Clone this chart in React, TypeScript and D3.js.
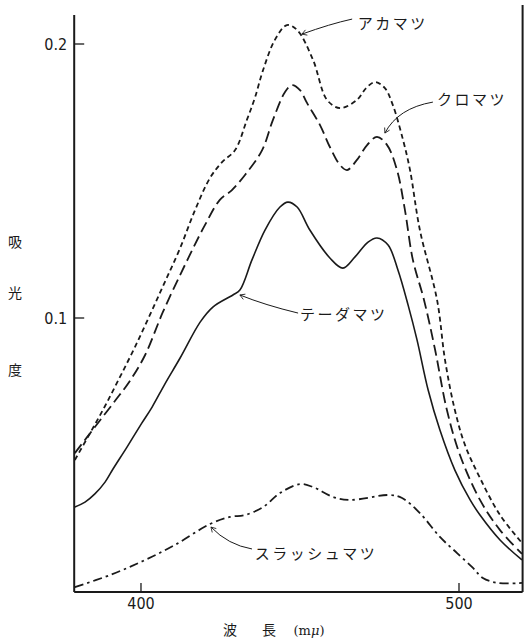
import React from 'react';
import * as d3 from 'd3';

// ---- data (wavelength nm, absorbance) ----
const akaNm = [379.2, 384.0, 388.7, 393.4, 398.1, 402.8, 407.5, 412.3, 417.0, 421.7, 425.5, 429.6, 433.3, 435.8, 438.4, 442.1, 445.9, 449.1, 454.1, 458.5, 462.6, 467.9, 470.8, 473.6, 476.7, 479.2, 482.4, 484.6, 487.7, 493.1, 495.6, 498.7, 501.9, 506.6, 512.9, 519.8];
const akaA = [0.0482, 0.0580, 0.0679, 0.0785, 0.0894, 0.1011, 0.1131, 0.1255, 0.1394, 0.1511, 0.1569, 0.1613, 0.1723, 0.1803, 0.1905, 0.2015, 0.2069, 0.2051, 0.1942, 0.1796, 0.1766, 0.1796, 0.1839, 0.1861, 0.1839, 0.1777, 0.1650, 0.1540, 0.1321, 0.1066, 0.0847, 0.0664, 0.0536, 0.0416, 0.0281, 0.0179];

const kuroNm = [379.2, 385.5, 391.8, 396.5, 401.3, 406.9, 413.8, 420.1, 424.8, 428.6, 432.7, 438.1, 441.5, 445.3, 447.5, 450.0, 452.2, 456.3, 459.4, 462.6, 464.8, 467.9, 471.1, 474.2, 477.4, 480.5, 483.0, 485.5, 489.0, 492.5, 496.2, 500.3, 506.6, 512.9, 519.8];
const kuroA = [0.0507, 0.0602, 0.0697, 0.0770, 0.0865, 0.1022, 0.1193, 0.1339, 0.1431, 0.1467, 0.1522, 0.1613, 0.1723, 0.1825, 0.1850, 0.1832, 0.1785, 0.1704, 0.1624, 0.1558, 0.1540, 0.1577, 0.1631, 0.1661, 0.1631, 0.1540, 0.1394, 0.1212, 0.1066, 0.0883, 0.0664, 0.0500, 0.0336, 0.0226, 0.0139];

const tedaNm = [379.2, 382.4, 385.5, 388.7, 391.2, 395.6, 400.3, 403.5, 407.5, 412.3, 418.6, 422.6, 428.9, 431.1, 434.9, 439.0, 443.7, 446.2, 449.1, 453.1, 459.4, 463.5, 467.3, 471.4, 474.2, 477.7, 480.8, 484.0, 486.8, 490.3, 494.0, 498.7, 503.5, 506.6, 512.9, 519.8];
const tedaA = [0.0310, 0.0328, 0.0358, 0.0401, 0.0449, 0.0529, 0.0617, 0.0675, 0.0759, 0.0854, 0.0985, 0.1040, 0.1084, 0.1102, 0.1212, 0.1321, 0.1405, 0.1423, 0.1405, 0.1321, 0.1219, 0.1182, 0.1223, 0.1277, 0.1292, 0.1266, 0.1175, 0.1047, 0.0920, 0.0737, 0.0591, 0.0445, 0.0336, 0.0281, 0.0190, 0.0117];

const slashNm = [379.2, 390.3, 400.6, 410.7, 421.7, 428.0, 432.7, 438.4, 443.7, 450.0, 454.1, 460.4, 465.7, 478.3, 482.1, 487.7, 494.0, 499.4, 504.4, 507.5, 512.3, 519.8];
const slashA = [0.0018, 0.0062, 0.0113, 0.0172, 0.0248, 0.0274, 0.0281, 0.0310, 0.0361, 0.0394, 0.0383, 0.0347, 0.0336, 0.0354, 0.0343, 0.0288, 0.0201, 0.0142, 0.0088, 0.0051, 0.0033, 0.0033];

const xTicks = [400, 500];
const yTicks = [0.1, 0.2];
const yTickLabels = ['0.1', '0.2'];
const xTickLabels = ['400', '500'];

const seriesNames = ['アカマツ', 'クロマツ', 'テーダマツ', 'スラッシュマツ'];
// label anchor (nm, A) and leader line start / control / end (nm, A)
const labelNm = [468.2, 493.1, 450.0, 435.8];
const labelA = [0.2055, 0.1777, 0.0993, 0.0120];
const leadStartNm = [466.4, 491.8, 449.4, 434.9];
const leadStartA = [0.2091, 0.1788, 0.1018, 0.0157];
const leadCtrlNm = [459.4, 480.8, 439.0, 427.4];
const leadCtrlA = [0.2073, 0.1766, 0.1047, 0.0172];
const leadEndNm = [450.6, 476.7, 431.1, 422.0];
const leadEndA = [0.2036, 0.1675, 0.1084, 0.0237];

const yTitle = ['吸', '光', '度'];
const xTitle = ['波', '長', '(mμ)'];

export default function App() {
  const W = 527, H = 642;
  const x = d3.scaleLinear().domain([379, 520]).range([74.2, 522.6]);
  const y = d3.scaleLinear().domain([0, 0.2]).range([592, 44]);
  const ink = '#1a1a1a';

  const line = d3.line<[number, number]>()
    .x(d => x(d[0]))
    .y(d => y(d[1]))
    .curve(d3.curveCatmullRom.alpha(0.5));

  const series = [
    { nm: akaNm, a: akaA, dash: '5,3.5', w: 1.8 },
    { nm: kuroNm, a: kuroA, dash: '11,5', w: 1.8 },
    { nm: tedaNm, a: tedaA, dash: null, w: 1.6 },
    { nm: slashNm, a: slashA, dash: '9,4,2.5,4', w: 1.8 },
  ];

  const x0 = x(379);
  const x1 = x(520);
  const yb = y(0);

  return (
    <svg width={W} height={H} style={{ position: 'absolute', left: 0, top: 0, background: '#fff' }}>
      <defs>
        <marker id="arr" viewBox="-1 -5 9 10" refX={6} refY={0} markerWidth={8} markerHeight={8} orient="auto" markerUnits="userSpaceOnUse">
          <path d="M0,-3.5 L6,0 L0,3.5" fill="none" stroke={ink} strokeWidth={1} />
        </marker>
      </defs>

      {/* axes frame */}
      <line x1={x0} y1={15} x2={x0} y2={yb} stroke={ink} strokeWidth={2} />
      <line x1={x1} y1={5} x2={x1} y2={yb} stroke={ink} strokeWidth={2} />
      <line x1={x0} y1={yb} x2={x1} y2={yb} stroke={ink} strokeWidth={2} />

      {/* y ticks */}
      {yTicks.map((t, i) => (
        <g key={'yt' + i}>
          <line x1={x0} x2={x0 + 10} y1={y(t)} y2={y(t)} stroke={ink} strokeWidth={1.3} />
          <text x={x0 - 7} y={y(t)} dy="0.35em" textAnchor="end" fontFamily="'DejaVu Sans Condensed','Liberation Sans Narrow',sans-serif" fontSize={16} fill={ink}>{yTickLabels[i]}</text>
        </g>
      ))}

      {/* x ticks */}
      {xTicks.map((t, i) => (
        <g key={'xt' + i}>
          <line x1={x(t)} x2={x(t)} y1={yb} y2={yb - 9} stroke={ink} strokeWidth={1.3} />
          <text x={x(t)} y={yb + 17} textAnchor="middle" fontFamily="'DejaVu Sans Condensed','Liberation Sans Narrow',sans-serif" fontSize={16} fill={ink}>{xTickLabels[i]}</text>
        </g>
      ))}

      {/* axis titles */}
      <g fontFamily="'Noto Sans CJK JP',sans-serif" fontSize={14} fill={ink}>
        <text x={15} y={247} textAnchor="middle">{yTitle[0]}</text>
        <text x={15} y={298} textAnchor="middle">{yTitle[1]}</text>
        <text x={15} y={375} textAnchor="middle">{yTitle[2]}</text>
        <text x={230} y={635} textAnchor="middle">{xTitle[0]}</text>
        <text x={269} y={635} textAnchor="middle">{xTitle[1]}</text>
        <text x={309} y={635} textAnchor="middle" fontFamily="'DejaVu Serif',serif" fontSize={13}>(m<tspan fontStyle="italic">μ</tspan>)</text>
      </g>

      {/* curves */}
      {series.map((s, i) => (
        <path key={'s' + i}
          d={line(s.nm.map((v, j) => [v, s.a[j]] as [number, number])) || ''}
          fill="none" stroke={ink} strokeWidth={s.w}
          strokeDasharray={s.dash || undefined} strokeLinecap="butt" strokeLinejoin="round" />
      ))}

      {/* labels with leaders */}
      {seriesNames.map((n, i) => (
        <g key={'l' + i}>
          <path d={`M${x(leadStartNm[i])},${y(leadStartA[i])} Q${x(leadCtrlNm[i])},${y(leadCtrlA[i])} ${x(leadEndNm[i])},${y(leadEndA[i])}`}
            fill="none" stroke={ink} strokeWidth={1} markerEnd="url(#arr)" />
          <text x={x(labelNm[i])} y={y(labelA[i])} fontFamily="'Noto Sans CJK JP',sans-serif" fontSize={15} letterSpacing={2.5} fill={ink}>{n}</text>
        </g>
      ))}
    </svg>
  );
}
